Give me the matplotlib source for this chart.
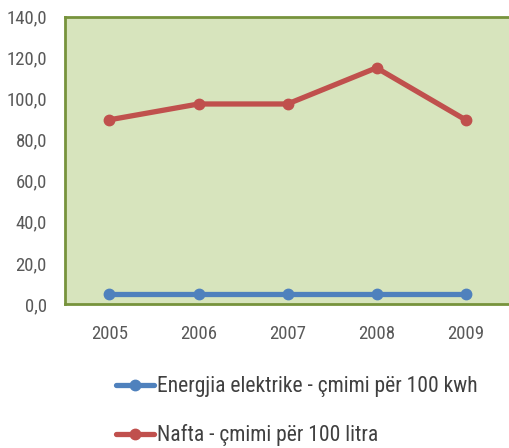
import matplotlib.pyplot as plt

years = ['2005', '2006', '2007', '2008', '2009']
energjia = [4.7, 4.7, 4.7, 4.7, 4.7]
nafta = [89.7, 97.4, 97.4, 115.0, 89.7]
yticks = [0, 20, 40, 60, 80, 100, 120, 140]

plt.rcParams['font.family'] = ['Liberation Sans Narrow', 'Roboto Condensed', 'Liberation Sans']

fig = plt.figure(figsize=(5.1, 4.48), dpi=100)
ax = fig.add_axes([65 / 510, 1 - 304 / 448, 1 - 65 / 510, (304 - 16.5) / 448])
ax.set_facecolor('#D7E4BD')

x = range(len(years))
ax.plot(x, energjia, color='#4F81BD', lw=3.8, marker='o', ms=7.5,
        label='Energjia elektrike - çmimi për 100 kwh', solid_capstyle='round')
ax.plot(x, nafta, color='#C0504D', lw=3.8, marker='o', ms=7.5,
        label='Nafta - çmimi për 100 litra', solid_capstyle='round')

ax.set_xlim(-0.5, len(years) - 0.5)
ax.set_ylim(0, 140)
ax.set_xticks(list(x))
ax.set_xticklabels(years)
ax.set_yticks(yticks)
ax.set_yticklabels([f'{v:.1f}'.replace('.', ',') for v in yticks])
ax.tick_params(length=0, labelsize=13.5, colors='#595959')
ax.tick_params(axis='x', pad=15)
ax.tick_params(axis='y', pad=13)

for side in ['left', 'bottom', 'top']:
    ax.spines[side].set_color('#77933C')
    ax.spines[side].set_linewidth(2)
ax.spines['right'].set_visible(False)

fig.legend(loc='upper left', bbox_to_anchor=(97 / 510, 1 - 357 / 448),
           frameon=False, fontsize=15.5, handlelength=1.77, handletextpad=0.14,
           labelspacing=1.25, labelcolor='#404040')

fig.savefig('out.png', dpi=100)
